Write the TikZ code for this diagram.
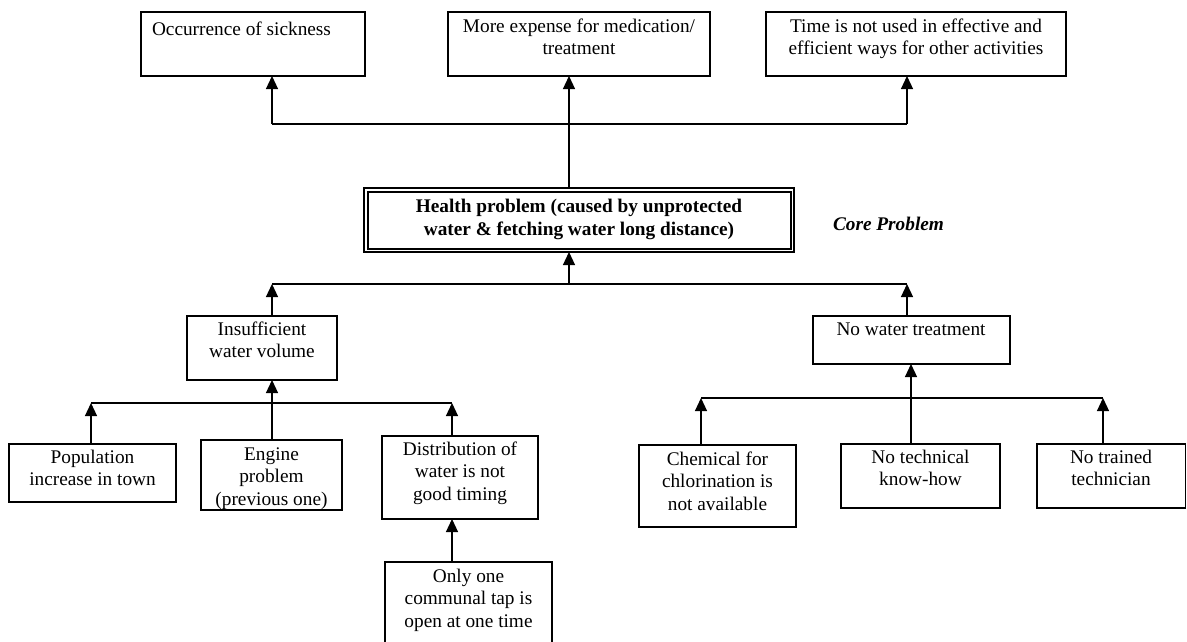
\documentclass[tikz,border=0pt]{standalone}
\usepackage{fontspec}
\setmainfont{Liberation Serif}
\usetikzlibrary{arrows.meta}
% strut that fixes the height of the first text line
\newcommand{\lnhead}{\rule{0pt}{14pt}}
\begin{document}
\begin{tikzpicture}[x=1pt,y=-1pt,
  box/.style={draw=black, line width=1.2pt, inner sep=0pt, outer sep=0pt, anchor=north west},
  txt/.style={inner sep=0pt, outer sep=0pt, anchor=north, align=center,
              font=\fontsize{19.3}{22.5}\selectfont},
  link/.style={line width=1.2pt, draw=black},
  arr/.style={link, -{Triangle[width=12pt,length=13pt]}}]
\useasboundingbox (0,0) rectangle (1187,641);
\clip (0,0) rectangle (1187,641);

% effects
\node[box, minimum width=224pt, minimum height=64pt] (b1) at (141,12) {};
\node[box, minimum width=262pt, minimum height=64pt] (b2) at (448,12) {};
\node[box, minimum width=300pt, minimum height=64pt] (b3) at (766,12) {};
\node[txt, anchor=north west] (b1t) at (152,21) {\lnhead Occurrence of sickness};
\node[txt] (b2t) at (579,18) {\lnhead More expense for medication/\\treatment};
\node[txt] (b3t) at (916,18) {\lnhead Time is not used in effective and\\efficient ways for other activities};

% core problem
\node[box, minimum width=430pt, minimum height=64pt] (hp) at (364,188) {};
\draw[line width=2pt] ([shift={(3.5,3.5)}]hp.north west) rectangle ([shift={(-3.5,-3.5)}]hp.south east);
\node[txt, font=\fontsize{19.3}{23}\selectfont\bfseries] (hpt) at (579,198) {\lnhead Health problem (caused by unprotected\\water \& fetching water long distance)};
\node[txt, anchor=base west, font=\fontsize{19.3}{23}\selectfont\bfseries\itshape] (core) at (833,230) {Core Problem};

% causes
\node[box, minimum width=150pt, minimum height=64pt] (ins) at (187,316) {};
\node[txt] (inst) at (262,321) {\lnhead Insufficient\\water volume};
\node[box, minimum width=197pt, minimum height=48pt] (nwt) at (813,316) {};
\node[txt] (nwtt) at (911,321) {\lnhead No water treatment};

\node[box, minimum width=167pt, minimum height=58pt] (pop) at (9,444) {};
\node[txt] (popt) at (92.5,449) {\lnhead Population\\increase in town};
\node[box, minimum width=141pt, minimum height=70pt] (eng) at (201,440) {};
\node[txt] (engt) at (271.5,446) {\lnhead Engine\\problem\\(previous one)};
\node[box, minimum width=156pt, minimum height=83pt] (dist) at (382,436) {};
\node[txt] (distt) at (460,441) {\lnhead Distribution of\\water is not\\good timing};
\node[box, minimum width=167pt, minimum height=110pt] (only) at (385,562) {};
\node[txt] (onlyt) at (468.5,568) {\lnhead Only one\\communal tap is\\open at one time};

\node[box, minimum width=157pt, minimum height=82pt] (chem) at (639,445) {};
\node[txt] (chemt) at (717.5,451) {\lnhead Chemical for\\chlorination is\\not available};
\node[box, minimum width=159pt, minimum height=64pt] (know) at (841,444) {};
\node[txt] (knowt) at (920.5,449) {\lnhead No technical\\know-how};
\node[box, minimum width=148.5pt, minimum height=64pt] (trn) at (1037,444) {};
\node[txt] (trnt) at (1111,449) {\lnhead No trained\\technician};

% junction points
\coordinate (tL) at (272,124);
\coordinate (tM) at (569,124);
\coordinate (tR) at (907,124);
\coordinate (mL) at (272,284);
\coordinate (mM) at (569,284);
\coordinate (mR) at (907,284);
\coordinate (lP) at (91,403);
\coordinate (lE) at (272,403);
\coordinate (lD) at (452,403);
\coordinate (rC) at (701,398);
\coordinate (rK) at (911,398);
\coordinate (rT) at (1103,398);

% core problem to effects
\draw[arr] (hp.north -| tM) -- (b2.south -| tM);
\draw[link] (tL) -- (tR);
\draw[arr] (tL) -- (b1.south -| tL);
\draw[arr] (tR) -- (b3.south -| tR);

% causes to core problem
\draw[link] (mL) -- (mR);
\draw[arr] (mM) -- (hp.south -| mM);
\draw[arr] (ins.north -| mL) -- (mL);
\draw[arr] (nwt.north -| mR) -- (mR);

% insufficient water volume branch
\draw[link] (lP) -- (lD);
\draw[arr] (pop.north -| lP) -- (lP);
\draw[arr] (dist.north -| lD) -- (lD);
\draw[arr] (eng.north -| lE) -- (ins.south -| lE);
\draw[arr] (only.north -| lD) -- (dist.south -| lD);

% no water treatment branch
\draw[link] (rC) -- (rT);
\draw[arr] (chem.north -| rC) -- (rC);
\draw[arr] (trn.north -| rT) -- (rT);
\draw[arr] (know.north -| rK) -- (nwt.south -| rK);
\end{tikzpicture}
\end{document}
